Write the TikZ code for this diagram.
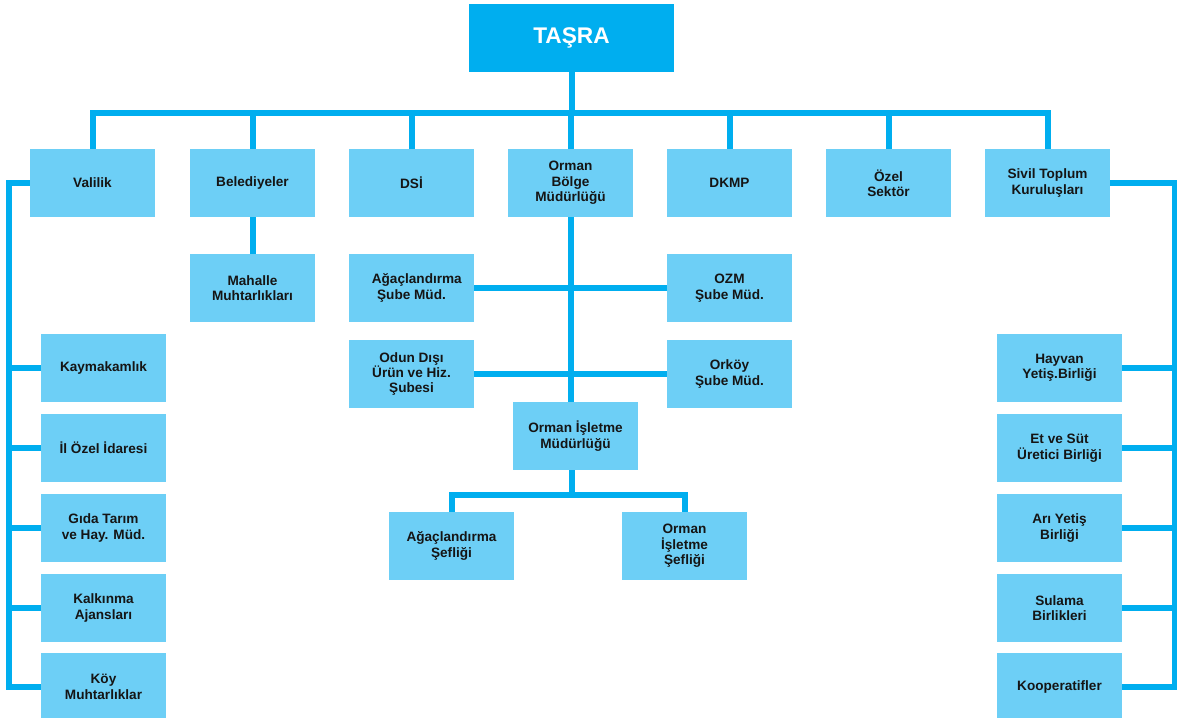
\documentclass[tikz,border=0pt]{standalone}
\usepackage{fontspec}
\setmainfont{Liberation Sans}
\definecolor{linec}{HTML}{00AEEF}
\definecolor{boxc}{HTML}{6DCFF6}
\definecolor{txtc}{HTML}{151515}
\begin{document}
\begin{tikzpicture}[x=0.75pt,y=-0.75pt,
  box/.style={draw=none,fill=boxc,minimum width=93.75pt,minimum height=51pt,inner sep=0pt,
    align=center,text=txtc,font=\fontsize{10.2}{11.6}\selectfont\bfseries},
  topbox/.style={draw=none,fill=linec,minimum width=153.75pt,minimum height=51pt,inner sep=0pt,
    text=white,font=\fontsize{17}{20}\selectfont\bfseries},
  conn/.style={draw=linec,line width=4.5pt,line join=miter}]
\useasboundingbox (0,0) rectangle (1177,717);
% top
\node[topbox] (tasra) at (571.5,38) {TAŞRA};
% level 1
\node[box] (vali) at (92.5,183) {Valilik};
\node[box] (bele) at (252.5,183) {Belediyeler};
\node[box] (dsi) at (411.5,183) {DSİ};
\node[box] (obm) at (570.5,183) {Orman\\Bölge\\Müdürlüğü};
\node[box] (dkmp) at (729.5,183) {DKMP};
\node[box] (ozel) at (888.5,183) {Özel\\Sektör};
\node[box] (sivil) at (1047.5,183) {Sivil Toplum\\Kuruluşları};
% belediye
\node[box] (mah) at (252.5,288) {Mahalle\\Muhtarlıkları};
% orman
\node[box] (agsube) at (411.5,288) {\hspace*{8pt}Ağaçlandırma\\Şube Müd.};
\node[box] (ozm) at (729.5,288) {OZM\\Şube Müd.};
\node[box] (odun) at (411.5,374) {Odun Dışı\\Ürün ve Hiz.\\Şubesi};
\node[box] (orkoy) at (729.5,374) {Orköy\\Şube Müd.};
\node[box] (oim) at (575.5,436) {Orman İşletme\\Müdürlüğü};
\node[box] (agsef) at (451.5,546) {Ağaçlandırma\\Şefliği};
\node[box] (oisef) at (684.5,546) {Orman\\İşletme\\Şefliği};
% left column
\node[box] (kay) at (103.5,368) {Kaymakamlık};
\node[box] (ilozel) at (103.5,448) {İl Özel İdaresi};
\node[box] (gida) at (103.5,528) {Gıda Tarım\\ve Hay. Müd.};
\node[box] (kalk) at (103.5,608) {Kalkınma\\Ajansları};
\node[box] (koy) at (103.5,687) {Köy\\Muhtarlıklar};
% right column
\node[box] (hay) at (1059.5,368) {Hayvan\\Yetiş.Birliği};
\node[box] (etsut) at (1059.5,448) {Et ve Süt\\Üretici Birliği};
\node[box] (ari) at (1059.5,528) {Arı Yetiş\\Birliği};
\node[box] (sul) at (1059.5,608) {Sulama\\Birlikleri};
\node[box] (koop) at (1059.5,687) {Kooperatifler};
% coordinates
\coordinate (bus) at (572,112.5);
\coordinate (L) at (9,183);
\coordinate (R) at (1174.5,183);
\coordinate (jn) at (572,495);
% connectors
\draw[conn] (tasra.south) -- (tasra.south |- bus);
\draw[conn] (vali.north) |- (bus) -| (sivil.north);
\foreach \n in {bele,dsi,obm,dkmp,ozel} \draw[conn] (\n.north) -- (\n.north |- bus);
\draw[conn] (bele.south) -- (mah.north);
\draw[conn] (obm.south) -- (obm.south |- oim.north);
\draw[conn] (agsube.east) -- (ozm.west);
\draw[conn] (odun.east) -- (orkoy.west);
\draw[conn] (oim.south -| jn) -- ([yshift=-2.25pt]jn);
\draw[conn] (agsef.north) |- (jn) -| (oisef.north);
\draw[conn] (vali.west) -- (vali.west -| L) |- (koy.west);
\foreach \n in {kay,ilozel,gida,kalk} \draw[conn] (\n.west) -- (\n.west -| L);
\draw[conn] (sivil.east) -- (sivil.east -| R) |- (koop.east);
\foreach \n in {hay,etsut,ari,sul} \draw[conn] (\n.east) -- (\n.east -| R);
\end{tikzpicture}
\end{document}
